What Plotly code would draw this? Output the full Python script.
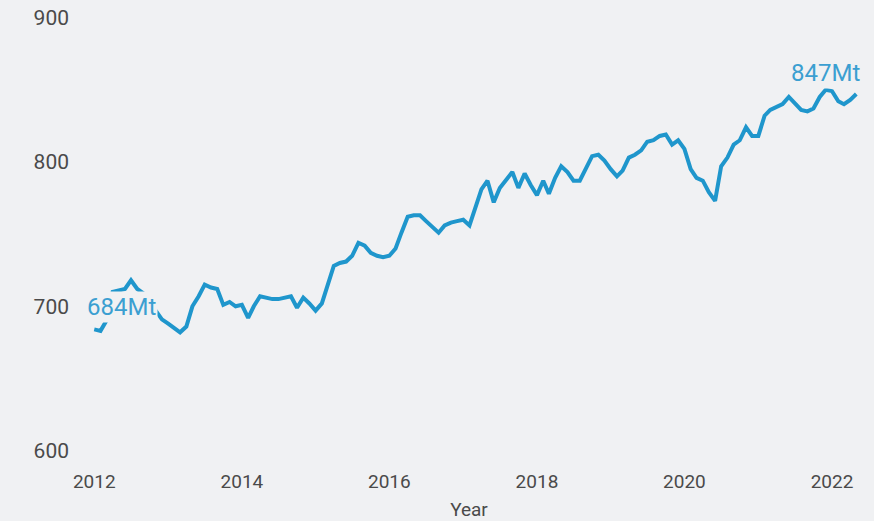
import pandas as pd
import plotly.graph_objects as go

start_month = "2012-01-01"
emissions_mt = [
    684, 683, 690, 710, 711, 712, 718, 712, 709, 703, 697, 691,
    688, 685, 682, 686, 700, 707, 715, 713, 712, 701, 703, 700,
    701, 692, 700, 707, 706, 705, 705, 706, 707, 699, 706, 702,
    697, 702, 714, 728, 730, 731, 735, 744, 742, 737, 735, 734,
    735, 740, 751, 762, 763, 763, 759, 755, 751, 756, 758, 759,
    760, 756, 768, 781, 787, 772, 782, 787, 793, 782, 792, 784,
    777, 787, 778, 789, 797, 793, 787, 787, 796, 804, 805, 801,
    795, 790, 794, 803, 805, 808, 814, 815, 818, 819, 812, 815,
    809, 795, 789, 787, 779, 773, 797, 803, 812, 815, 824, 818,
    818, 832, 836, 838, 840, 845, 841, 836, 835, 837, 845, 850,
    849, 842, 840, 843, 847,
]
months = pd.date_range(start_month, periods=len(emissions_mt), freq="MS")

y_ticks = [600, 700, 800, 900]
x_title = "Year"

bg = "#f0f1f3"
line_color = "#1f96cc"
label_color = "#3b9fd1"
tick_color = "#4a4a4a"

fig = go.Figure()
fig.add_trace(go.Scatter(
    x=months, y=emissions_mt, mode="lines",
    line=dict(color=line_color, width=4),
    hoverinfo="x+y", showlegend=False,
))

fig.add_annotation(
    x=months[0], y=emissions_mt[0], text=f"{emissions_mt[0]}Mt",
    showarrow=False, xanchor="left", yanchor="middle",
    xshift=-9, yshift=22, bgcolor=bg, borderpad=1,
    font=dict(family="Roboto", size=24, color=label_color),
)
fig.add_annotation(
    x=months[-1], y=emissions_mt[-1], text=f"{emissions_mt[-1]}Mt",
    showarrow=False, xanchor="right", yanchor="middle",
    xshift=6, yshift=21, bgcolor=bg, borderpad=1,
    font=dict(family="Roboto", size=24, color=label_color),
)

fig.update_layout(
    width=874, height=521,
    margin=dict(l=70, r=6, t=8, b=56),
    paper_bgcolor=bg, plot_bgcolor=bg,
    font=dict(family="Roboto", color=tick_color),
    xaxis=dict(
        type="date",
        range=["2011-09-03", "2022-06-28"],
        tick0="2012-01-01", dtick="M24", tickformat="%Y",
        showgrid=False, zeroline=False, showline=False,
        automargin=False,
        tickfont=dict(size=19, color=tick_color),
        ticklabelstandoff=3,
        title=dict(text=x_title, font=dict(size=19, color=tick_color), standoff=18),
    ),
    yaxis=dict(
        range=[590.1, 906.6],
        tickvals=y_ticks,
        showgrid=False, zeroline=False, showline=False,
        tickfont=dict(size=21, color=tick_color),
    ),
)

fig.write_html(
    "out.html",
    config={"displayModeBar": False},
    post_script="document.body.style.margin='0';document.body.style.background='" + bg + "';",
)
